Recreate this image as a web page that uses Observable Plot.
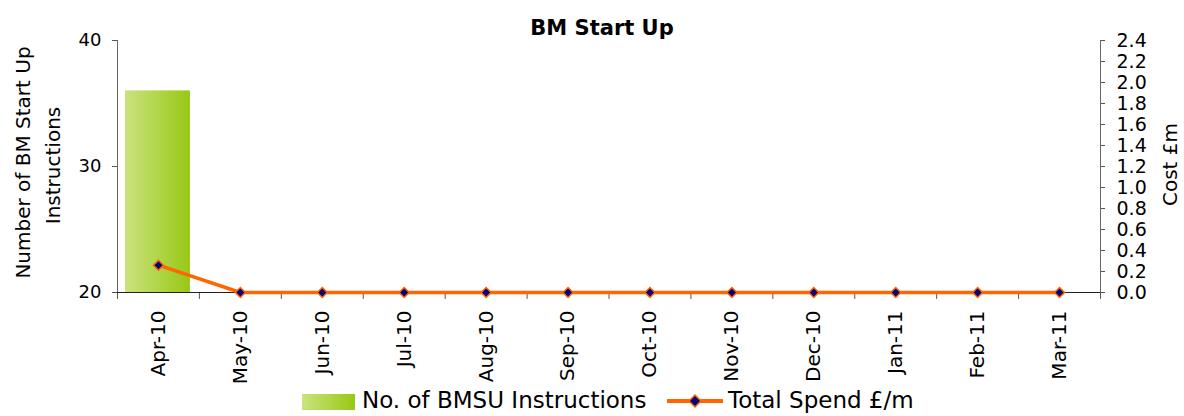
<!DOCTYPE html>
<html>
<head>
<meta charset="utf-8">
<script src="https://cdn.jsdelivr.net/npm/d3@7"></script>
<script src="https://cdn.jsdelivr.net/npm/@observablehq/plot@0.6"></script>
<style>
  body { margin: 0; background: white; }
  #wrap { position: relative; width: 1184px; font-family: "DejaVu Sans", sans-serif; }
  #legend { position: relative; width: 1184px; height: 31px; font-size: 23px; color: #000; }
  #legend .item { position: absolute; top: 0; line-height: 31px; white-space: nowrap; }
</style>
</head>
<body>
<div id="wrap">
  <div id="chart"></div>
  <div id="legend">
    <div style="position:absolute;left:302px;top:9px;width:53px;height:16px;background:linear-gradient(to right,#cbe37f,#97c814);"></div>
    <span class="item" style="left:362px;">No. of BMSU Instructions</span>
    <svg style="position:absolute;left:666px;top:7px;" width="58" height="18">
      <line x1="1" y1="9" x2="57" y2="9" stroke="#ff6600" stroke-width="4"/>
      <path d="M29,3 L35,9 L29,15 L23,9 Z" fill="#000080" stroke="#ff6600" stroke-width="1.5"/>
    </svg>
    <span class="item" style="left:728px;">Total Spend £/m</span>
  </div>
</div>
<script>
// ---- data ----
const months = ["Apr-10","May-10","Jun-10","Jul-10","Aug-10","Sep-10","Oct-10","Nov-10","Dec-10","Jan-11","Feb-11","Mar-11"];
const instructions = [36, 0, 0, 0, 0, 0, 0, 0, 0, 0, 0, 0];
const spend = [0.26, 0, 0, 0, 0, 0, 0, 0, 0, 0, 0, 0];
const leftTicks = [20, 30, 40];
const rightTicks = [0, 0.2, 0.4, 0.6, 0.8, 1.0, 1.2, 1.4, 1.6, 1.8, 2.0, 2.2, 2.4];
const title = "BM Start Up";
const leftLabel1 = "Number of BM Start Up";
const leftLabel2 = "Instructions";
const rightLabel = "Cost £m";

const leftDomain = [20, 40];
const rightMax = 2.4;
const toLeft = c => leftDomain[0] + c / rightMax * (leftDomain[1] - leftDomain[0]);
const fromLeft = v => (v - leftDomain[0]) / (leftDomain[1] - leftDomain[0]) * rightMax;

const data = months.map((m, i) => ({month: m, instr: instructions[i], spend: spend[i]}));

const W = 1184, ML = 117, MR = 84;
const step = (W - ML - MR) / months.length;

const plot = Plot.plot({
  width: W,
  height: 385,
  marginTop: 40,
  marginBottom: 93,
  marginLeft: ML,
  marginRight: MR,
  style: {fontFamily: "DejaVu Sans, sans-serif", fontSize: "18px", color: "#000", background: "white", overflow: "visible"},
  x: {domain: months, padding: 0, round: false, axis: null},
  y: {domain: leftDomain, axis: null},
  marks: [
    Plot.barY(data, {x: "month", y1: leftDomain[0], y2: "instr", fill: "url(#barGrad)", insetLeft: 8, insetRight: 9, clip: true}),
    Plot.frame({anchor: "left", stroke: "#666"}),
    Plot.frame({anchor: "right", stroke: "#666"}),
    Plot.axisY({anchor: "left", ticks: leftTicks, tickSize: 5, tickPadding: 11, stroke: "#555", fontSize: 18, label: null}),
    Plot.axisY({anchor: "right", ticks: rightTicks.map(toLeft), tickFormat: d => fromLeft(d).toFixed(1), tickSize: 4, tickPadding: 12, stroke: "#555", fontSize: 19, label: null}),
    Plot.axisX({anchor: "bottom", tickRotate: -90, tickSize: 0, tickPadding: 18, fontSize: 20, label: null}),
    Plot.ruleX(months, {x: d => d, dx: -step / 2, y1: leftDomain[0], y2: leftDomain[0] - 0.55, stroke: "#555"}),
    Plot.ruleX(months.slice(-1), {x: d => d, dx: step / 2, y1: leftDomain[0], y2: leftDomain[0] - 0.55, stroke: "#555"}),
    Plot.ruleY([leftDomain[0]], {stroke: "#222"}),
    Plot.line(data, {x: "month", y: d => toLeft(d.spend), stroke: "#ff6600", strokeWidth: 3.5}),
    Plot.dot(data, {x: "month", y: d => toLeft(d.spend), symbol: "diamond2", r: 4.5, fill: "#000080", stroke: "#ff6600", strokeWidth: 1.5}),
    Plot.text([title], {frameAnchor: "top", dy: -20, dx: -7, fontWeight: "bold", fontSize: 21}),
    Plot.text([leftLabel1], {frameAnchor: "left", textAnchor: "middle", dx: -94, dy: -4, rotate: -90, fontSize: 20}),
    Plot.text([leftLabel2], {frameAnchor: "left", textAnchor: "middle", dx: -64, dy: -1, rotate: -90, fontSize: 20}),
    Plot.text([rightLabel], {frameAnchor: "right", textAnchor: "middle", dx: 70, dy: -2, rotate: -90, fontSize: 20})
  ]
});

// gradient for the bar
const ns = "http://www.w3.org/2000/svg";
const defs = document.createElementNS(ns, "defs");
const grad = document.createElementNS(ns, "linearGradient");
grad.setAttribute("id", "barGrad");
grad.setAttribute("x1", "0"); grad.setAttribute("x2", "1");
grad.setAttribute("y1", "0"); grad.setAttribute("y2", "0");
[["0%", "#cbe37f"], ["100%", "#97c814"]].forEach(([o, c]) => {
  const s = document.createElementNS(ns, "stop");
  s.setAttribute("offset", o); s.setAttribute("stop-color", c);
  grad.appendChild(s);
});
defs.appendChild(grad);
plot.insertBefore(defs, plot.firstChild);

document.getElementById("chart").appendChild(plot);
</script>
</body>
</html>
